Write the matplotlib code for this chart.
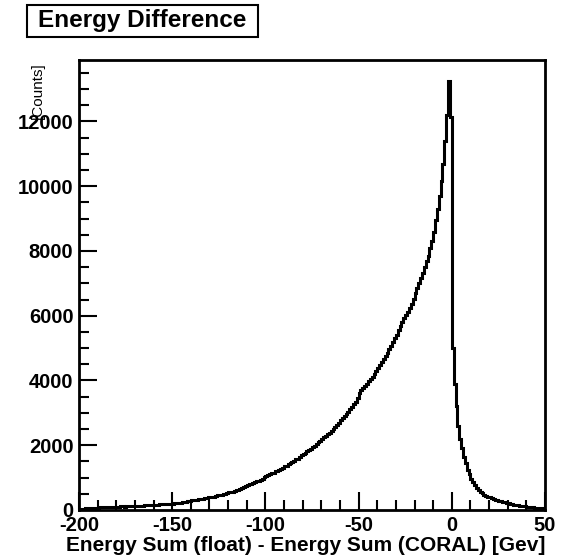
import numpy as np
import matplotlib.pyplot as plt
from matplotlib.patches import Rectangle
from matplotlib.ticker import MultipleLocator

# 1 GeV bins from -200 to 50, counts
bin_edges = np.arange(-200, 51, 1)

counts_left = [
    35, 42, 38, 50, 47, 55, 60, 58, 66, 70,
    72, 80, 78, 85, 82, 90, 88, 95, 92, 98,
    102, 98, 108, 112, 106, 115, 118, 114, 122, 120,
    126, 132, 128, 138, 135, 142, 146, 140, 152, 156,
    160, 166, 162, 172, 176, 170, 182, 186, 180, 195,
    200, 208, 215, 212, 230, 238, 246, 258, 270, 285,
    298, 310, 318, 312, 330, 342, 350, 362, 372, 388,
    402, 415, 410, 432, 448, 455, 472, 490, 505, 528,
    548, 570, 565, 595, 612, 630, 648, 672, 700, 728,
    770, 792, 815, 830, 860, 880, 905, 940, 965, 1010,
    1060, 1075, 1110, 1130, 1150, 1190, 1210, 1240, 1275, 1310,
    1350, 1370, 1410, 1440, 1480, 1510, 1560, 1590, 1630, 1690,
    1740, 1770, 1810, 1860, 1880, 1940, 1990, 2030, 2090, 2140,
    2200, 2240, 2290, 2350, 2380, 2450, 2510, 2560, 2620, 2700,
    2780, 2830, 2900, 2960, 3040, 3120, 3190, 3280, 3340, 3450,
    3600, 3700, 3760, 3820, 3900, 3980, 4050, 4120, 4200, 4290,
    4380, 4470, 4560, 4650, 4760, 4850, 4960, 5080, 5180, 5300,
    5420, 5560, 5680, 5800, 5920, 6010, 6120, 6240, 6350, 6520,
    6700, 6850, 7000, 7160, 7320, 7500, 7700, 7860, 8080, 8320,
    8600, 8950, 9300, 9700, 10150, 10700, 11400, 12200, 13265, 12140,
]
counts_right = [
    5000, 3900, 3200, 2600, 2200, 1900, 1650, 1450, 1250, 1100,
    970, 860, 770, 690, 620, 560, 510, 470, 440, 410,
    390, 365, 340, 320, 300, 285, 265, 250, 235, 220,
    205, 190, 180, 165, 155, 145, 135, 125, 115, 110,
    100, 95, 90, 80, 75, 70, 65, 60, 55, 50,
]
counts = counts_left + counts_right

plt.rcParams["font.family"] = ["Liberation Sans", "DejaVu Sans"]
plt.rcParams["axes.unicode_minus"] = False

fig = plt.figure(figsize=(5.61, 5.59), dpi=100)
ax = fig.add_axes([0.1408, 0.0877, 0.8307, 0.805])

ax.stairs(counts, bin_edges, color="black", linewidth=2.2)

ax.set_xlim(-200, 50)
ax.set_ylim(0, 13900)

ax.xaxis.set_major_locator(MultipleLocator(50))
ax.xaxis.set_minor_locator(MultipleLocator(10))
ax.yaxis.set_major_locator(MultipleLocator(2000))
ax.yaxis.set_minor_locator(MultipleLocator(500))
ax.tick_params(which="both", direction="in", top=False, right=False, width=1.5)
ax.tick_params(which="major", length=13, labelsize=14.5, pad=4)
ax.tick_params(which="minor", length=7)
for lab in ax.get_xticklabels() + ax.get_yticklabels():
    lab.set_fontweight("bold")
for sp in ax.spines.values():
    sp.set_linewidth(2)

ax.set_xlabel("Energy Sum (float) - Energy Sum (CORAL) [Gev]", loc="right",
              fontsize=15, fontweight="bold", labelpad=1)
ax.set_ylabel("[Counts]", loc="top", fontsize=11)
ax.yaxis.set_label_coords(-0.073, 0.995)

# title box, ROOT style
fig.patches.append(Rectangle((27 / 561, 1 - 37 / 559), 231 / 561, 32 / 559,
                             transform=fig.transFigure, facecolor="white",
                             edgecolor="black", linewidth=1.5))
fig.text(38 / 561, 1 - 21 / 559, "Energy Difference", fontsize=17.5, fontweight="bold",
         va="center", ha="left")

fig.savefig("out.png", dpi=100)
